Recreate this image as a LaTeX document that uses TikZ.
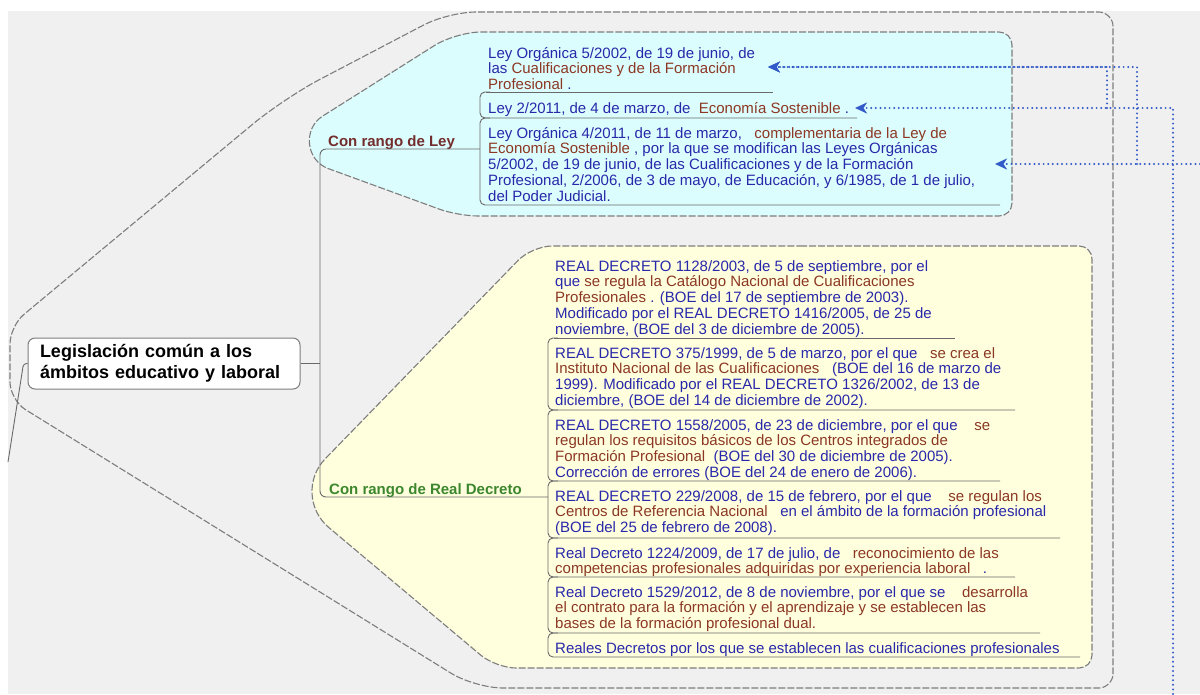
\documentclass[tikz,border=0pt]{standalone}
\usepackage{fontspec}
\setmainfont{Liberation Sans}
\usetikzlibrary{arrows.meta}
\definecolor{bgfill}{RGB}{240,240,240}
\definecolor{cyanfill}{RGB}{220,253,253}
\definecolor{yelfill}{RGB}{255,255,222}
\definecolor{boxline}{RGB}{125,125,125}
\definecolor{connline}{RGB}{105,105,105}
\definecolor{tblue}{RGB}{40,40,170}
\definecolor{tbrown}{RGB}{140,55,35}
\definecolor{tmaroon}{RGB}{115,45,45}
\definecolor{tgreen}{RGB}{60,135,45}
\definecolor{relblue}{RGB}{50,90,200}
\newcommand\blu[1]{\textcolor{tblue}{#1}}
\newcommand\brn[1]{\textcolor{tbrown}{#1}}
\begin{document}
\begin{tikzpicture}[x=1pt,y=-1pt,
  bnd/.style={draw=boxline,line width=1.1pt,dash pattern=on 7pt off 2pt},
  conn/.style={draw=connline,line width=0.9pt},
  itm/.style={anchor=north west,inner sep=0pt,align=left,font=\fontsize{15}{15.8}\selectfont},
  branch/.style={anchor=base west,inner sep=0pt,font=\fontsize{15}{18}\selectfont\bfseries},
  rootbox/.style={draw=boxline,line width=1pt,fill=white,rounded corners=7pt,text width=248pt,
    inner xsep=12pt,inner ysep=0pt,minimum height=51pt,align=left,
    font=\fontsize{18}{21}\selectfont\bfseries},
  rel/.style={draw=relblue,line width=2.2pt,dash pattern=on 0pt off 4.6pt,line cap=round,
    -{Stealth[length=12pt,width=11pt,inset=3.5pt]}}]
\useasboundingbox (0,0) rectangle (1200,694);
\fill[white] (0,0) rectangle (1200,694);
\fill[bgfill] (8,11) rectangle (1200,694);
% outer boundary
\draw[bnd] (700,12) -- (1099,12) .. controls (1106.2,12) and (1113,18.8) .. (1113,26)
  -- (1113,674) .. controls (1113,681.2) and (1106.2,688) .. (1099,688)
  -- (503,688) .. controls (487.6,688) and (464.3,681.4) .. (451.2,673.3)
  -- (25.3,409.5) .. controls (16.9,404.3) and (10,391.9) .. (10,382)
  -- (10,344) .. controls (10,334.1) and (16.2,320.8) .. (23.8,314.5)
  -- (252.2,124.6) .. controls (269.1,110.5) and (298.9,90.5) .. (318.3,80.2)
  -- (423.3,25.2) .. controls (436.9,17.9) and (460.6,12) .. (476,12) -- cycle;
% blue box
\draw[bnd,fill=cyanfill] (700,32) -- (999,32) .. controls (1006.2,32) and (1012,37.8) .. (1012,45)
  -- (1012,203) .. controls (1012,210.2) and (1006.2,216) .. (999,216)
  -- (478,216) .. controls (467,216) and (449.5,212.9) .. (439.2,209.1)
  -- (328.3,168.6) .. controls (305.8,160.4) and (302.5,128.8) .. (322.8,116)
  -- (434.8,45.3) .. controls (446.5,38) and (467.3,32) .. (481,32) -- cycle;
% yellow box
\draw[bnd,fill=yelfill] (800,246) -- (1079,246) .. controls (1086.2,246) and (1092,251.8) .. (1092,259)
  -- (1092,655) .. controls (1092,662.2) and (1086.2,668) .. (1079,668)
  -- (516,668) .. controls (505,668) and (489.1,662.2) .. (480.7,655.1)
  -- (328.8,527.5) .. controls (307.9,509.9) and (306.2,478.3) .. (325.3,458.7)
  -- (518.1,260.4) .. controls (525.7,252.5) and (541,246) .. (552,246) -- cycle;
% root node
\node[rootbox] (root) at (164,363.5) {Legislación común a los\\ámbitos educativo y laboral};
\coordinate (rootout) at (8,462);
\draw[conn,rounded corners=3pt] (root.west) -- ++(-4,0) -- (rootout);
% branch labels
\node[branch,text=tmaroon] (ley) at (328,146.5) {Con rango de Ley};
\node[branch,text=tgreen] (rd) at (329,494) {Con rango de Real Decreto};
\coordinate (bus) at (320,363.5);
\coordinate (leyend) at (480,149);
\coordinate (rdend) at (548,497);
\draw[conn] (root.east) -- (bus);
\draw[conn,rounded corners=6pt] (leyend) -- (320,149) -- (320,497) -- (rdend);
% blue items lines
\draw[conn] (486,92) -- (773,92);
\draw[conn,rounded corners=5pt] (490,92) -- (480,92) -- (480,118) -- (857,118);
\draw[conn,rounded corners=5pt] (490,118) -- (480,118) -- (480,205) -- (1000,205);
% yellow items lines
\draw[conn] (554,338) -- (955,338);
\draw[conn,rounded corners=5pt] (558,338) -- (548,338) -- (548,410) -- (1015,410);
\draw[conn,rounded corners=5pt] (558,410) -- (548,410) -- (548,481) -- (1000,481);
\draw[conn,rounded corners=5pt] (558,481) -- (548,481) -- (548,538) -- (1060,538);
\draw[conn,rounded corners=5pt] (558,538) -- (548,538) -- (548,577) -- (1015,577);
\draw[conn,rounded corners=5pt] (558,577) -- (548,577) -- (548,633) -- (1040,633);
\draw[conn,rounded corners=5pt] (558,633) -- (548,633) -- (548,657) -- (1080,657);
% blue items
\node[itm] (b1) at (488,46.9) {\strut\blu{Ley Orgánica 5/2002, de 19 de junio, de}\\
  \strut\blu{las} \brn{Cualificaciones y de la Formación}\\
  \strut\brn{Profesional} \blu{.}};
\node[itm] (b2) at (488,101.9) {\strut\blu{Ley 2/2011, de 4 de marzo, de}~ \brn{Economía Sostenible} \blu{.}};
\node[itm] (b3) at (488,126.9) {\strut\blu{Ley Orgánica 4/2011, de 11 de marzo,}~~ \brn{complementaria de la Ley de}\\
  \strut\brn{Economía Sostenible} \blu{, por la que se modifican las Leyes Orgánicas}\\
  \strut\blu{5/2002, de 19 de junio, de las Cualificaciones y de la Formación}\\
  \strut\blu{Profesional, 2/2006, de 3 de mayo, de Educación, y 6/1985, de 1 de julio,}\\
  \strut\blu{del Poder Judicial.}};
% yellow items
\node[itm] (y1) at (555,259.9) {\strut\blu{REAL DECRETO 1128/2003, de 5 de septiembre, por el}\\
  \strut\blu{que} \brn{se regula la Catálogo Nacional de Cualificaciones}\\
  \strut\brn{Profesionales} \blu{. (BOE del 17 de septiembre de 2003).}\\
  \strut\blu{Modificado por el REAL DECRETO 1416/2005, de 25 de}\\
  \strut\blu{noviembre, (BOE del 3 de diciembre de 2005).}};
\node[itm] (y2) at (555,346.9) {\strut\blu{REAL DECRETO 375/1999, de 5 de marzo, por el que}~~ \brn{se crea el}\\
  \strut\brn{Instituto Nacional de las Cualificaciones}~~ \blu{(BOE del 16 de marzo de}\\
  \strut\blu{1999). Modificado por el REAL DECRETO 1326/2002, de 13 de}\\
  \strut\blu{diciembre, (BOE del 14 de diciembre de 2002).}};
\node[itm] (y3) at (555,418.9) {\strut\blu{REAL DECRETO 1558/2005, de 23 de diciembre, por el que}~~~ \brn{se}\\
  \strut\brn{regulan los requisitos básicos de los Centros integrados de}\\
  \strut\brn{Formación Profesional}~ \blu{(BOE del 30 de diciembre de 2005).}\\
  \strut\blu{Corrección de errores (BOE del 24 de enero de 2006).}};
\node[itm] (y4) at (555,489.9) {\strut\blu{REAL DECRETO 229/2008, de 15 de febrero, por el que}~~~ \brn{se regulan los}\\
  \strut\brn{Centros de Referencia Nacional}~~ \blu{en el ámbito de la formación profesional}\\
  \strut\blu{(BOE del 25 de febrero de 2008).}};
\node[itm] (y5) at (555,546.9) {\strut\blu{Real Decreto 1224/2009, de 17 de julio, de}~~ \brn{reconocimiento de las}\\
  \strut\brn{competencias profesionales adquiridas por experiencia laboral}~~ \blu{.}};
\node[itm] (y6) at (555,585.9) {\strut\blu{Real Decreto 1529/2012, de 8 de noviembre, por el que se}~~~ \brn{desarrolla}\\
  \strut\brn{el contrato para la formación y el aprendizaje y se establecen las}\\
  \strut\brn{bases de la formación profesional dual.}};
\node[itm] (y7) at (555,641.9) {\strut\blu{Reales Decretos por los que se establecen las cualificaciones profesionales}};
% relationship arrows
\coordinate (a1) at (768,67);
\coordinate (a2) at (855,108);
\coordinate (a3) at (995,164);
\coordinate (r1) at (1137,164);
\coordinate (r1b) at (1137,67);
\coordinate (r2) at (1107,108);
\coordinate (r2b) at (1107,67);
\coordinate (r3) at (1173,694);
\coordinate (r3b) at (1173,108);
\coordinate (r4) at (1200,164);
\draw[rel] (r1) -- (r1b) -- (a1);
\draw[rel] (r2) -- (r2b) -- (a1);
\draw[rel] (r3) -- (r3b) -- (a2);
\draw[rel] (r4) -- (a3);
\end{tikzpicture}
\end{document}
